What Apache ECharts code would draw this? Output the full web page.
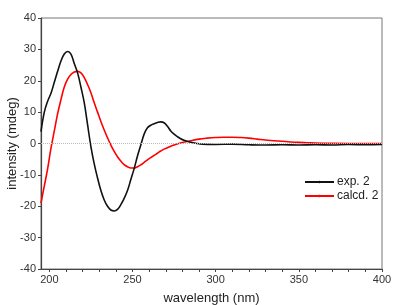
<!DOCTYPE html>
<html>
<head>
<meta charset="utf-8">
<script src="https://cdn.jsdelivr.net/npm/echarts@6/dist/echarts.min.js"></script>
<style>
  html, body { margin: 0; padding: 0; background: #fff; }
  #chart { width: 403px; height: 305px; }
</style>
</head>
<body>
<div id="chart"></div>
<script>
// 实验曲线 exp. 2
var expWave = [195, 197, 199, 201, 203, 205, 207, 209, 211, 213, 215, 217, 219, 221, 223, 225, 227, 229, 231, 233, 235, 237, 239, 241, 243, 245, 247, 249, 251, 253, 255, 257, 259, 261, 263, 265, 267, 269, 271, 273, 275, 277, 279, 281, 283, 285, 288, 292, 300, 310, 320, 330, 340, 350, 360, 370, 380, 390, 400];
var expVal = [3.8, 10, 13.5, 16, 19.5, 23, 26.3, 28.5, 29.3, 28.5, 25.5, 22.5, 18, 13, 6, -1, -6.5, -11, -15, -18, -20, -21.2, -21.5, -21, -19.5, -17.5, -15, -11.5, -8, -4, -0.5, 3, 5, 5.8, 6.3, 6.7, 6.9, 6.6, 5.5, 4, 3, 2.2, 1.5, 1, 0.7, 0.4, 0.1, -0.2, -0.3, -0.2, -0.4, -0.5, -0.4, -0.5, -0.4, -0.5, -0.3, -0.4, -0.3];

// 计算曲线 calcd. 2
var calcWave = [195, 197, 199, 201, 203, 205, 207, 209, 211, 213, 215, 217, 219, 221, 223, 225, 227, 229, 231, 233, 235, 237, 239, 241, 243, 245, 247, 249, 251, 253, 255, 257, 259, 261, 263, 265, 267, 269, 272, 275, 280, 285, 290, 295, 300, 305, 310, 315, 320, 325, 330, 335, 340, 345, 350, 355, 360, 370, 380, 390, 400];
var calcVal = [-19, -13.5, -8, -1.5, 4, 9.5, 14, 18, 20.5, 22, 22.8, 23, 22.5, 21, 18.8, 16.2, 13, 10, 7, 4.3, 1.8, -0.5, -2.5, -4.2, -5.6, -6.7, -7.4, -7.8, -7.8, -7.4, -6.8, -6, -5.2, -4.5, -3.8, -3.1, -2.4, -1.8, -1.1, -0.5, 0.3, 0.9, 1.4, 1.7, 1.9, 2.0, 2.0, 1.9, 1.7, 1.4, 1.1, 0.9, 0.7, 0.5, 0.35, 0.25, 0.15, 0.05, 0, 0, 0];

var xLabels = [200, 250, 300, 350, 400];
var xTicks = [200, 210, 220, 230, 240, 250, 260, 270, 280, 290, 300, 310, 320, 330, 340, 350, 360, 370, 380, 390, 400];

function pairs (xs, ys) {
  var out = [];
  for (var i = 0; i < xs.length; i++) {
    out.push([xs[i], ys[i]]);
  }
  return out;
}

var myChart = echarts.init(document.getElementById('chart'), null, { renderer: 'canvas' });
var fontName = 'Liberation Sans, Arial, sans-serif';

var option = {
  animation: false,
  backgroundColor: '#fff',
  grid: {
    left: 41, right: 21, top: 18, bottom: 36,
    containLabel: false,
    outerBoundsMode: 'none',
    show: true,
    borderColor: '#777',
    borderWidth: 1
  },
  legend: {
    orient: 'vertical',
    left: 299,
    top: 171,
    itemWidth: 29,
    itemHeight: 3,
    itemGap: 2,
    textStyle: { fontFamily: fontName, fontSize: 12, color: '#222', padding: [0, 0, 0, -2] },
    data: ['exp. 2', 'calcd. 2']
  },
  xAxis: {
    type: 'value',
    min: 195,
    max: 400,
    name: 'wavelength (nm)',
    nameLocation: 'middle',
    nameGap: 23,
    nameMoveOverlap: false,
    nameTextStyle: { fontFamily: fontName, fontSize: 13, color: '#222' },
    axisLine: { show: true, onZero: false, lineStyle: { color: '#444', width: 1.2 } },
    axisTick: { show: true, customValues: xTicks, length: 3, lineStyle: { color: '#444' } },
    axisLabel: { customValues: xLabels, fontFamily: fontName, fontSize: 11, color: '#333', margin: 5 },
    splitLine: { show: false }
  },
  yAxis: {
    type: 'value',
    min: -40,
    max: 40,
    interval: 10,
    name: 'intensity (mdeg)',
    nameLocation: 'middle',
    nameGap: 22,
    nameMoveOverlap: false,
    nameTextStyle: { fontFamily: fontName, fontSize: 13, color: '#222' },
    axisLine: { show: true, lineStyle: { color: '#444', width: 1.2 } },
    axisTick: { show: true, length: 3, lineStyle: { color: '#444' } },
    axisLabel: { fontFamily: fontName, fontSize: 11, color: '#333', margin: 5 },
    splitLine: { show: false }
  },
  series: [
    {
      name: 'exp. 2',
      type: 'line',
      data: pairs(expWave, expVal),
      smooth: 0.4,
      symbol: 'circle',
      symbolSize: 3,
      showSymbol: false,
      lineStyle: { color: '#111', width: 1.6 },
      itemStyle: { color: '#111' },
      z: 3,
      markLine: {
        silent: true,
        symbol: 'none',
        label: { show: false },
        lineStyle: { color: '#bbb', type: 'dotted', width: 1 },
        data: [{ yAxis: 0 }]
      }
    },
    {
      name: 'calcd. 2',
      type: 'line',
      data: pairs(calcWave, calcVal),
      smooth: 0.4,
      symbol: 'circle',
      symbolSize: 3,
      showSymbol: false,
      lineStyle: { color: '#ff0000', width: 1.6 },
      itemStyle: { color: '#ff0000' },
      z: 2
    }
  ]
};

myChart.setOption(option);
</script>
</body>
</html>
